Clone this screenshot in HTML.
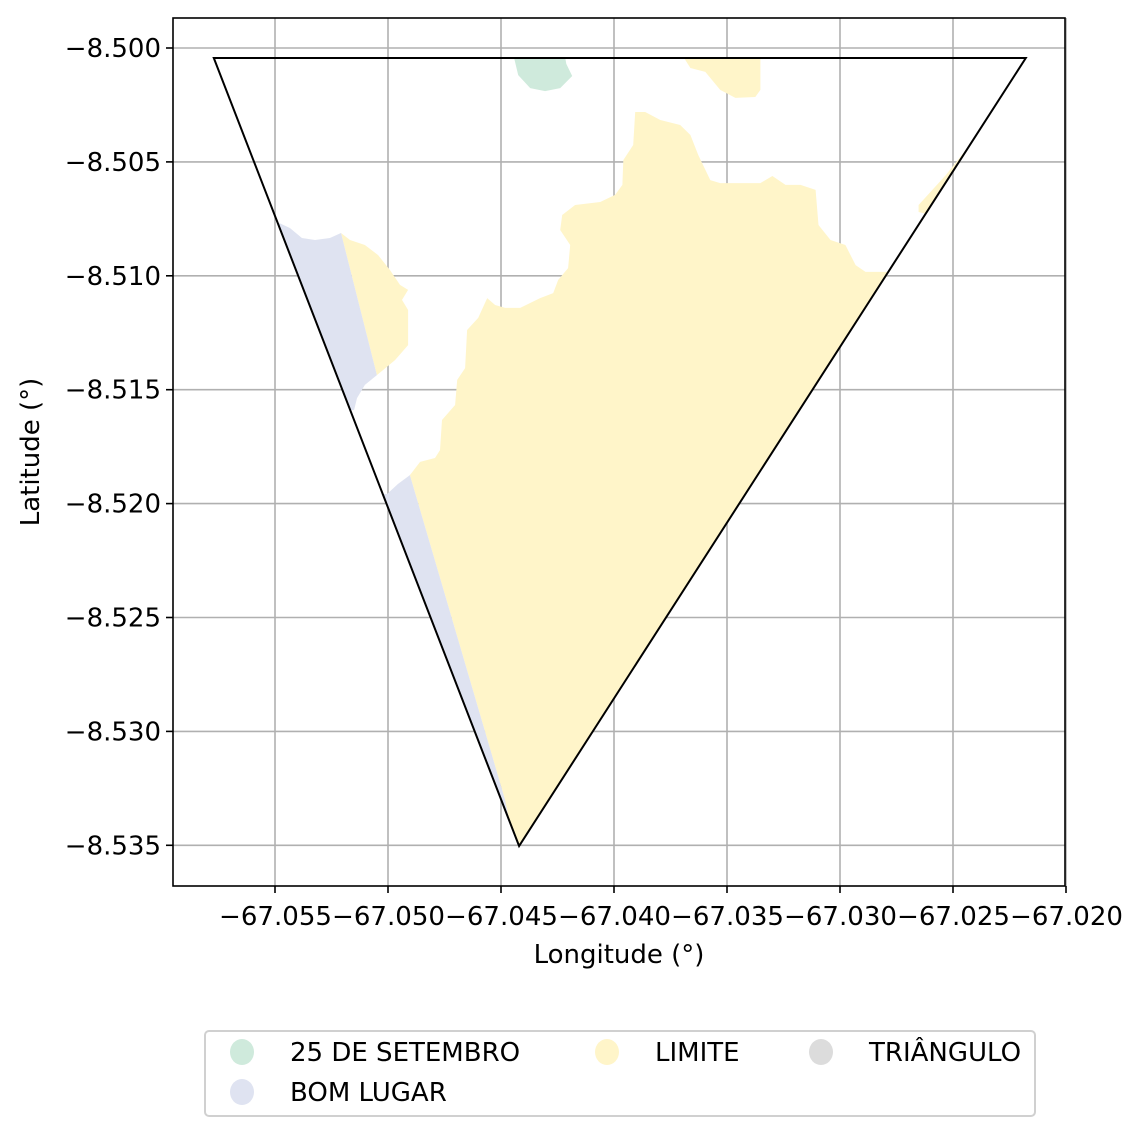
<!DOCTYPE html>
<html><head><meta charset="utf-8">
<style>
body{margin:0;background:#fff;}
svg{font-family:"DejaVu Sans","Liberation Sans",sans-serif;}
</style></head>
<body>
<svg id="chart" width="1140" height="1136" viewBox="0 0 1140 1136" xmlns="http://www.w3.org/2000/svg"></svg>
<script>
// ---- data ----
const xTicks = [-67.055,-67.050,-67.045,-67.040,-67.035,-67.030,-67.025,-67.020];
const yTicks = [-8.500,-8.505,-8.510,-8.515,-8.520,-8.525,-8.530,-8.535];
const xTickLabels = ["\u221267.055","\u221267.050","\u221267.045","\u221267.040","\u221267.035","\u221267.030","\u221267.025","\u221267.020"];
const yTickLabels = ["\u22128.500","\u22128.505","\u22128.510","\u22128.515","\u22128.520","\u22128.525","\u22128.530","\u22128.535"];
const triLon = [-67.05771,-67.02178,-67.0442];
const triLat = [-8.50044,-8.50044,-8.53503];
const limiteMainLon = [-67.04903,-67.04858,-67.04792,-67.0477,-67.04761,-67.04703,-67.04694,-67.04659,-67.0465,-67.04601,-67.04561,-67.04526,-67.04482,-67.04415,-67.04327,-67.04269,-67.04247,-67.04203,-67.04194,-67.04238,-67.04229,-67.04172,-67.04061,-67.03995,-67.03963,-67.03959,-67.03915,-67.03906,-67.03862,-67.03795,-67.03707,-67.03662,-67.03627,-67.03574,-67.0353,-67.03352,-67.03299,-67.03241,-67.03175,-67.03108,-67.03095,-67.03042,-67.02976,-67.02931,-67.02887,-67.02732,-67.02732,-67.04437,-67.04482];
const limiteMainLat = [-8.51875,-8.51817,-8.518,-8.51765,-8.51633,-8.51567,-8.51457,-8.51405,-8.51238,-8.51185,-8.51098,-8.51128,-8.51141,-8.51141,-8.51098,-8.51076,-8.51018,-8.50966,-8.50865,-8.50799,-8.50733,-8.50689,-8.50676,-8.50645,-8.50601,-8.50492,-8.50426,-8.50281,-8.50281,-8.50316,-8.50338,-8.50382,-8.5047,-8.5058,-8.50593,-8.50593,-8.50562,-8.50601,-8.50601,-8.50623,-8.50777,-8.50843,-8.50865,-8.50953,-8.50983,-8.50983,-8.5374,-8.5374,-8.53301];
const limiteTopLon = [-67.03724,-67.03662,-67.03596,-67.0353,-67.03463,-67.03375,-67.03352,-67.03352];
const limiteTopLat = [-8.49991,-8.50088,-8.50105,-8.50184,-8.50219,-8.50215,-8.50184,-8.49991];
const limiteRightLon = [-67.02652,-67.02532,-67.02444,-67.024,-67.02598,-67.02652];
const limiteRightLat = [-8.50689,-8.50558,-8.50448,-8.50448,-8.50733,-8.5072];
const limiteLeftLon = [-67.05208,-67.05168,-67.05102,-67.05044,-67.04991,-67.04947,-67.04911,-67.04938,-67.04911,-67.04911,-67.04969,-67.05049];
const limiteLeftLat = [-8.50812,-8.50843,-8.50865,-8.50909,-8.50975,-8.5104,-8.51062,-8.51106,-8.5115,-8.51304,-8.5137,-8.51436];
const setembroLon = [-67.04442,-67.04424,-67.04371,-67.04305,-67.04238,-67.04185,-67.04211,-67.04225,-67.04442];
const setembroLat = [-8.50044,-8.50119,-8.50176,-8.50189,-8.50176,-8.50123,-8.5007,-8.49991,-8.49991];
const bomUpperLon = [-67.05523,-67.05491,-67.05434,-67.05381,-67.05323,-67.05257,-67.05208,-67.05049,-67.05102,-67.05137,-67.0515,-67.0539];
const bomUpperLat = [-8.50764,-8.50764,-8.5079,-8.50834,-8.50843,-8.50834,-8.50812,-8.51436,-8.51479,-8.51537,-8.51589,-8.51589];
const bomLowerLon = [-67.05035,-67.05004,-67.04956,-67.04903,-67.04482,-67.04437,-67.04504,-67.04947];
const bomLowerLat = [-8.51958,-8.51958,-8.51914,-8.51875,-8.53301,-8.53521,-8.53565,-8.53565];
const legendLabels = ["25 DE SETEMBRO","BOM LUGAR","LIMITE","TRI\u00c2NGULO"];

// ---- layout ----
const svg = document.getElementById('chart');
const NS = 'http://www.w3.org/2000/svg';
const PL=173, PR=1065, PT=18, PB=886;
const FS = 26;
const xS = v => 275 + (v - (-67.055)) * (113/0.005);
const yS = v => 48 + ((-8.5) - v) * (113.9/0.005);
const COL = {g:'#cfeadc', b:'#dfe3f1', y:'#fff5c9', t:'#dcdcdc'};
function mk(tag, attrs, parent){
  const e = document.createElementNS(NS, tag);
  for (const k in attrs) e.setAttribute(k, attrs[k]);
  (parent||svg).appendChild(e);
  return e;
}
function pts(lon, lat){ return lon.map((v,i)=>xS(v).toFixed(1)+','+yS(lat[i]).toFixed(1)).join(' '); }

const defs = mk('defs',{});
const cp = mk('clipPath',{id:'tri'},defs);
mk('polygon',{points:pts(triLon,triLat)},cp);

// grid
xTicks.forEach((t,i)=>{
  const l = mk('line',{x1:xS(t),x2:xS(t),y1:PT,y2:PB,stroke:'#b0b0b0','stroke-width':1.6});
  
  
});
yTicks.forEach((t,i)=>{
  const l = mk('line',{x1:PL,x2:PR,y1:yS(t),y2:yS(t),stroke:'#b0b0b0','stroke-width':1.6});
  
  
});

// regions
const g = mk('g',{'clip-path':'url(#tri)'});


const regions = [
  [limiteMainLon,limiteMainLat,COL.y,'limite-main-region'],
  [limiteTopLon,limiteTopLat,COL.y,'limite-top-region'],
  [limiteRightLon,limiteRightLat,COL.y,'limite-right-region'],
  [limiteLeftLon,limiteLeftLat,COL.y,'limite-left-region'],
  [setembroLon,setembroLat,COL.g,'setembro-region'],
  [bomUpperLon,bomUpperLat,COL.b,'bom-lugar-upper-region'],
  [bomLowerLon,bomLowerLat,COL.b,'bom-lugar-lower-region']
];
regions.forEach(r=>{
  const p = mk('polygon',{points:pts(r[0],r[1]),fill:r[2],stroke:'none'},g);
  
  
});
const tri = mk('polygon',{points:pts(triLon,triLat),fill:'none',stroke:'#000','stroke-width':2,'stroke-linejoin':'miter'});



// frame
const fr = mk('rect',{x:PL,y:PT,width:PR-PL,height:PB-PT,fill:'none',stroke:'#000','stroke-width':1.6});



// ticks
xTicks.forEach((t,i)=>{
  mk('line',{x1:xS(t),x2:xS(t),y1:PB,y2:PB+7,stroke:'#000','stroke-width':1.6});
  const tx = mk('text',{x:xS(t)-56,y:PB+39,'font-size':FS,fill:'#000',textLength:113,lengthAdjust:'spacingAndGlyphs'});
  tx.textContent = xTickLabels[i];
  
  
});
yTicks.forEach((t,i)=>{
  mk('line',{x1:PL-7,x2:PL,y1:yS(t),y2:yS(t),stroke:'#000','stroke-width':1.6});
  const tx = mk('text',{x:PL-12,y:yS(t)+9,'text-anchor':'end','font-size':FS,fill:'#000'});
  tx.textContent = yTickLabels[i];
  
  
});

// axis titles
const xt = mk('text',{x:619,y:963,'text-anchor':'middle','font-size':FS});
xt.textContent = 'Longitude (°)';


const yt = mk('text',{x:0,y:0,'text-anchor':'middle','font-size':FS,transform:'translate(39,452) rotate(-90)'});
yt.textContent = 'Latitude (°)';



// legend
const lg = mk('g',{});


mk('rect',{x:205,y:1031,width:830,height:85,rx:4,fill:'#fff',stroke:'#d0d0d0','stroke-width':2},lg);
const legCols = [COL.g,COL.b,COL.y,COL.t];
const legPos = [[242,1052],[242,1092],[607,1052],[821,1052]];
legendLabels.forEach((lab,i)=>{
  const e = mk('g',{},lg);
  
  
  mk('ellipse',{cx:legPos[i][0],cy:legPos[i][1],rx:12,ry:13,fill:legCols[i]},e);
  const t = mk('text',{x:legPos[i][0]+48,y:legPos[i][1]+9,'font-size':FS},e);
  t.textContent = lab;
});
</script>
</body></html>
